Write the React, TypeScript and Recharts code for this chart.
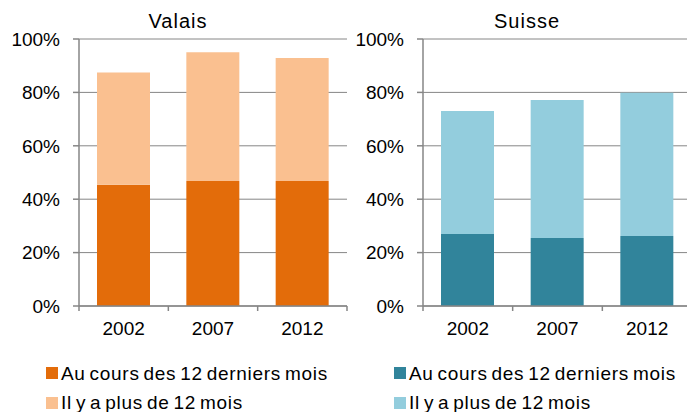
import React from 'react';
import { BarChart, Bar, XAxis, YAxis, CartesianGrid } from 'recharts';

// share of people, by period (%)
const years = ['2002', '2007', '2012'];
const valaisRecent = [45.4, 46.8, 46.8];
const valaisOlder = [42.1, 48.2, 46.1];
const suisseRecent = [27.0, 25.5, 26.2];
const suisseOlder = [46.0, 51.7, 53.7];
const yTicks = [0, 20, 40, 60, 80, 100];
const seriesLabels = ['Au cours des 12 derniers mois', 'Il y a plus de 12 mois'];

const FONT = '"Liberation Sans", Arial, sans-serif';
const GREY = '#868686';

const YearTick = (props: any) => {
  const { x, y, payload, index, visibleTicksCount } = props;
  const half = payload && payload.offset ? payload.offset : 44.7;
  return (
    <g>
      <line x1={x - half} x2={x - half} y1={y} y2={y + 5} stroke={GREY} strokeWidth={1.5} />
      {index === visibleTicksCount - 1 && (
        <line x1={x + half} x2={x + half} y1={y} y2={y + 5} stroke={GREY} strokeWidth={1.5} />
      )}
      <text x={x} y={y + 29} textAnchor="middle" fontSize={19} fontFamily={FONT} fill="#000">
        {payload.value}
      </text>
    </g>
  );
};

interface PanelProps {
  recent: number[];
  older: number[];
  colors: string[];
  left: number;
  yWidth: number;
  marginRight: number;
}

const Panel: React.FC<PanelProps> = ({ recent, older, colors, left, yWidth, marginRight }) => {
  const data = years.map((year, i) => ({ year, recent: recent[i], older: older[i] }));
  return (
    <div style={{ position: 'absolute', left, top: 0 }}>
      <BarChart
        width={360}
        height={412}
        data={data}
        margin={{ top: 39, right: marginRight, bottom: 76, left: 0 }}
        barSize={53}
      >
        <CartesianGrid vertical={false} stroke={GREY} strokeWidth={1} />
        <XAxis
          dataKey="year"
          interval={0}
          height={30}
          tickSize={0}
          tickMargin={0}
          tickLine={false}
          axisLine={{ stroke: GREY, strokeWidth: 1.5 }}
          tick={<YearTick />}
        />
        <YAxis
          domain={[0, 100]}
          ticks={yTicks}
          interval={0}
          width={yWidth}
          tickFormatter={(v: number) => `${v}%`}
          axisLine={{ stroke: GREY, strokeWidth: 1.5 }}
          tickLine={{ stroke: GREY, strokeWidth: 1.5 }}
          tickSize={6}
          tickMargin={13}
          tick={{ fill: '#000', fontSize: 19, fontFamily: FONT }}
        />
        {/* black plot-area border, top and right */}
        <XAxis xAxisId="top" orientation="top" dataKey="year" height={0} tick={false} tickLine={false} axisLine={{ stroke: '#000' }} />
        <YAxis yAxisId="right" orientation="right" width={0} domain={[0, 100]} tick={false} tickLine={false} axisLine={{ stroke: '#000' }} />
        <Bar dataKey="recent" stackId="a" fill={colors[0]} isAnimationActive={false} />
        <Bar dataKey="older" stackId="a" fill={colors[1]} isAnimationActive={false} />
      </BarChart>
    </div>
  );
};

const LegendBlock = ({ x, colors }: { x: number; colors: string[] }) => (
  <g>
    {seriesLabels.map((label, i) => (
      <g key={label}>
        <rect x={x} y={367 + i * 30} width={12} height={12} fill={colors[i]} />
        <text x={x + 15} y={380 + i * 29} fontSize={19} fontFamily={FONT} fill="#000" letterSpacing={0.7} wordSpacing={-2}>
          {label}
        </text>
      </g>
    ))}
  </g>
);

export default function App() {
  const valaisColors = ['#E36C0A', '#FAC090'];
  const suisseColors = ['#31849B', '#93CDDD'];
  return (
    <div style={{ position: 'relative', width: 687, height: 412, overflow: 'hidden', background: '#fff' }}>
      <style>{'body{margin:0}'}</style>
      <Panel recent={valaisRecent} older={valaisOlder} colors={valaisColors} left={0} yWidth={79} marginRight={13} />
      <Panel recent={suisseRecent} older={suisseOlder} colors={suisseColors} left={343} yWidth={80} marginRight={11} />
      <svg width={687} height={412} style={{ position: 'absolute', left: 0, top: 0, pointerEvents: 'none' }}>
        <text x={178} y={28} textAnchor="middle" fontSize={20} fontFamily={FONT} letterSpacing={1} fill="#000">Valais</text>
        <text x={527} y={28} textAnchor="middle" fontSize={20} fontFamily={FONT} letterSpacing={1} fill="#000">Suisse</text>
        <LegendBlock x={46} colors={valaisColors} />
        <LegendBlock x={394} colors={suisseColors} />
      </svg>
    </div>
  );
}
